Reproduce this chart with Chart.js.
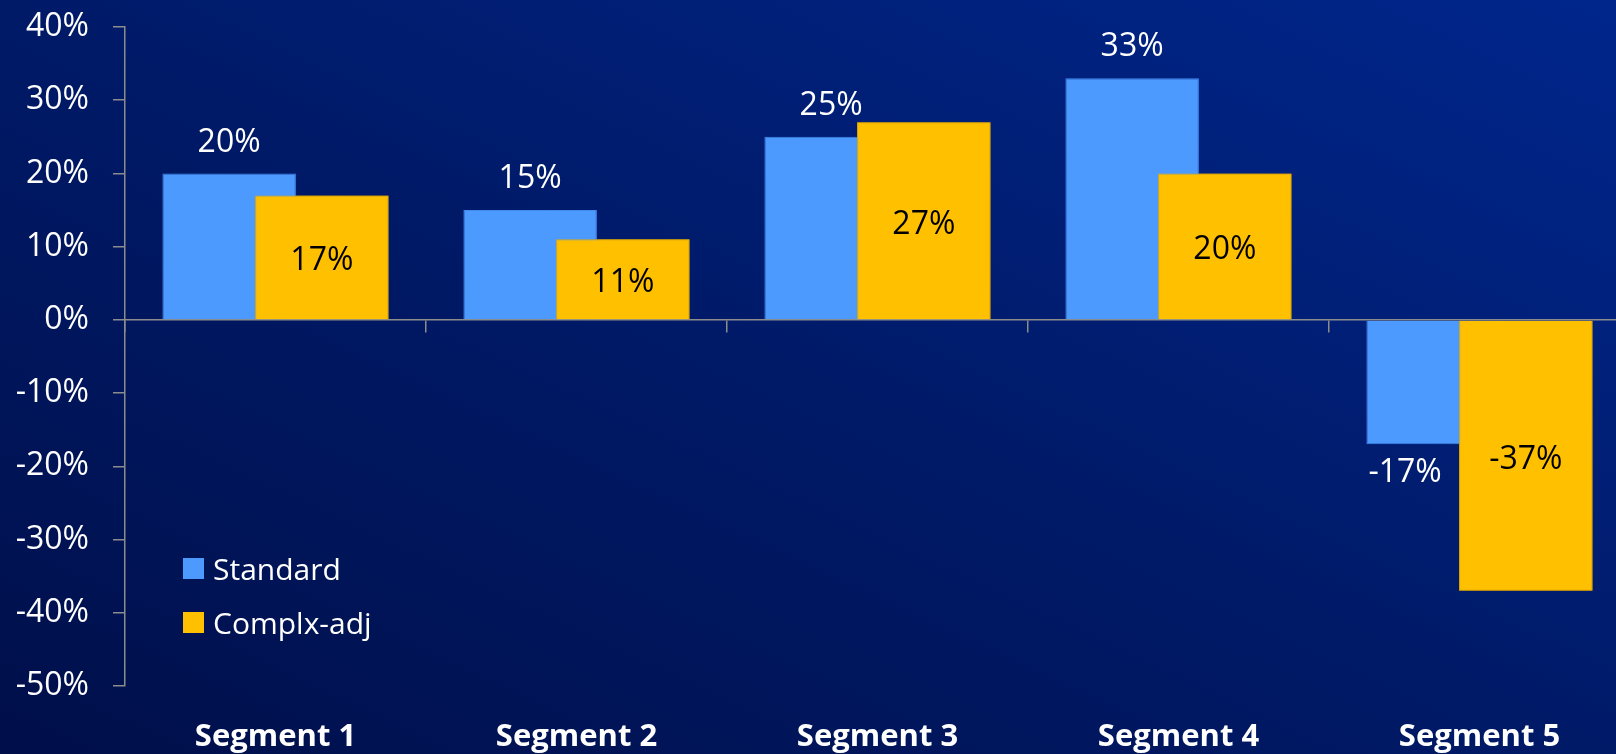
<!DOCTYPE html>
<html>
<head>
<meta charset="utf-8">
<script src="https://cdn.jsdelivr.net/npm/chart.js@4/dist/chart.umd.min.js"></script>
<style>
  html, body { margin: 0; padding: 0; width: 1616px; height: 754px; overflow: hidden; }
  body { background: linear-gradient(to top right, #000F4A 0%, #001A68 50%, #00268C 100%); position: relative; font-family: "Open Sans", sans-serif; }
  #wrap { position: absolute; left: 0; top: 0; width: 1630px; height: 754px; }
  #legend { position: absolute; left: 183px; top: 541px; color: #fff; font-family: "Open Sans", sans-serif; font-size: 30px; }
  .item { display: flex; align-items: center; height: 54px; }
  .sw { width: 21px; height: 21px; margin-right: 9px; }
</style>
</head>
<body>
<div id="wrap"><canvas id="c" width="1630" height="754"></canvas></div>
<div id="legend"></div>
<script>
const categories = ["Segment 1", "Segment 2", "Segment 3", "Segment 4", "Segment 5"];
const seriesNames = ["Standard", "Complx-adj"];
const standardValues = [20, 15, 25, 33, -17];
const complxAdjValues = [17, 11, 27, 20, -37];
const yTicks = [40, 30, 20, 10, 0, -10, -20, -30, -40, -50];
const seriesColors = ["#4D9AFF", "#FFC000"];
const seriesBorders = ["#4289EE", "#E0A800"];

const GRAY = "#8C8C8C";

const valueLabels = {
  id: "valueLabels",
  afterDatasetsDraw(chart) {
    // draw the second series on top of the first (overlapping bars)
    const m1 = chart.getDatasetMeta(1);
    if (m1 && !m1.hidden) m1.controller.draw();
    const ctx = chart.ctx;
    ctx.save();
    ctx.font = "32px 'Open Sans'";
    ctx.textAlign = "center";
    ctx.textBaseline = "middle";
    chart.data.datasets.forEach((ds, di) => {
      const meta = chart.getDatasetMeta(di);
      meta.data.forEach((bar, i) => {
        const v = ds.data[i];
        const txt = v + "%";
        let x = bar.x, y;
        if (di === 0) {
          ctx.fillStyle = "#FFFFFF";
          if (v >= 0) { y = bar.y - 31; }
          else { y = bar.y + 29; x = bar.x - bar.width * 0.21; }
        } else {
          ctx.fillStyle = "#000000";
          y = (bar.y + bar.base) / 2 + 4;
        }
        ctx.fillText(txt, x, y);
      });
    });
    ctx.restore();
  }
};

const chart = new Chart(document.getElementById("c"), {
  type: "bar",
  data: {
    labels: categories,
    datasets: [
      { label: seriesNames[0], data: standardValues, backgroundColor: seriesColors[0], borderColor: seriesBorders[0], borderWidth: 1 },
      { label: seriesNames[1], data: complxAdjValues, backgroundColor: seriesColors[1], borderColor: seriesBorders[1], borderWidth: 1 }
    ]
  },
  options: {
    responsive: false,
    animation: false,
    devicePixelRatio: 1,
    layout: { padding: { top: 27, left: 0, right: 0, bottom: 0 } },
    datasets: { bar: { categoryPercentage: 0.616, barPercentage: 1.44 } },
    plugins: { legend: { display: false }, tooltip: { enabled: false } },
    scales: {
      x: {
        type: "category",
        position: "bottom",
        offset: true,
        grid: { display: false, drawTicks: false },
        border: { display: false },
        ticks: { color: "#FFFFFF", font: { family: "'Open Sans'", size: 31, weight: "bold" }, padding: 33, maxRotation: 0 },
        afterFit(s) { s.height = 68; }
      },
      x0: {
        type: "category",
        position: { y: 0 },
        offset: true,
        grid: { offset: true, drawOnChartArea: false, drawTicks: true, tickLength: 12, color: GRAY, lineWidth: 1.5 },
        border: { display: true, color: GRAY, width: 1.5 },
        ticks: { display: false },
        afterFit(s) { s.height = 0; }
      },
      y: {
        min: -50,
        max: 40,
        afterBuildTicks(s) { s.ticks = yTicks.map(v => ({ value: v })); },
        grid: { drawOnChartArea: false, drawTicks: true, tickLength: 12, color: GRAY, lineWidth: 1.5 },
        border: { display: true, color: GRAY, width: 1.5 },
        ticks: { color: "#FFFFFF", font: { family: "'Open Sans'", size: 32 }, padding: 24, callback: v => v + "%" },
        afterFit(s) { s.width = 125; s.paddingTop = 0; s.paddingBottom = 0; }
      }
    }
  },
  plugins: [valueLabels]
});

const leg = document.getElementById("legend");
seriesNames.forEach((n, i) => {
  const d = document.createElement("div");
  d.className = "item";
  const sw = document.createElement("span");
  sw.className = "sw";
  sw.style.background = seriesColors[i];
  const t = document.createElement("span");
  t.textContent = n;
  d.appendChild(sw); d.appendChild(t);
  leg.appendChild(d);
});
</script>
</body>
</html>
